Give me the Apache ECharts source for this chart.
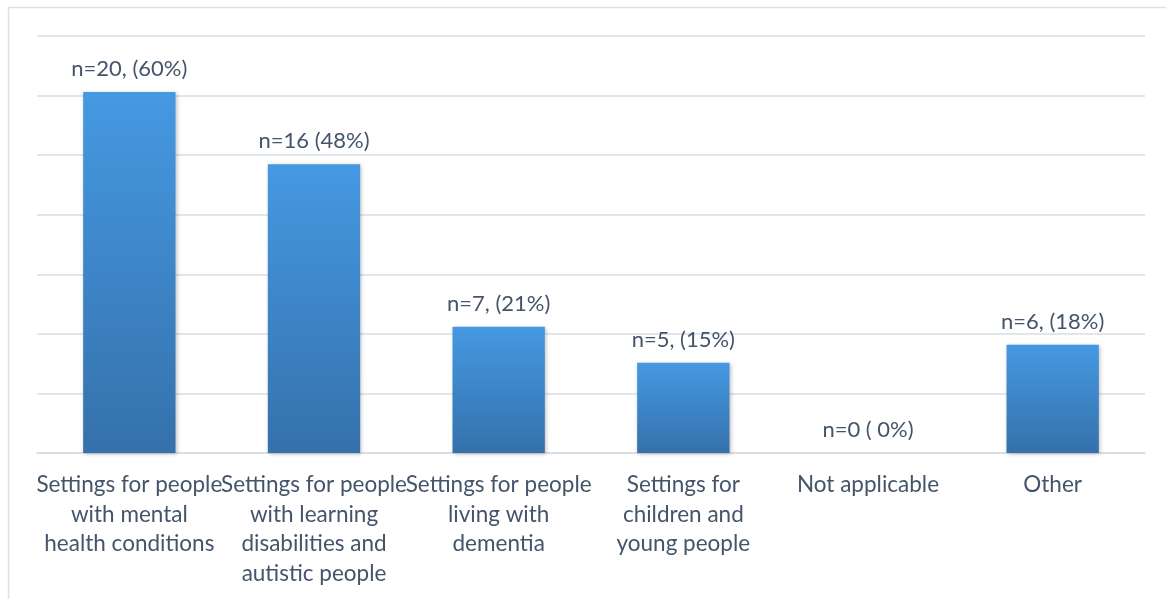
<!DOCTYPE html>
<html>
<head>
<meta charset="utf-8">
<script src="https://cdn.jsdelivr.net/npm/echarts@6/dist/echarts.min.js"></script>
<style>
  html, body { margin: 0; padding: 0; background: #ffffff; }
  #chart { width: 1166px; height: 599px; }
</style>
</head>
<body>
<div id="chart"></div>
<script>
// Care settings reported by respondents (n = number of respondents)
const categories = [
  'Settings for people\nwith mental\nhealth conditions',
  'Settings for people\nwith learning\ndisabilities and\nautistic people',
  'Settings for people\nliving with\ndementia',
  'Settings for\nchildren and\nyoung people',
  'Not applicable',
  'Other'
];
const counts = [20, 16, 7, 5, 0, 6];
const valueLabels = ['n=20, (60%)', 'n=16 (48%)', 'n=7, (21%)', 'n=5, (15%)', 'n=0 ( 0%)', 'n=6, (18%)'];
const respondents = 33;   // total answering; gridlines mark 10% steps of this
const gridSteps = 7;

const textColor = '#44546a';
const fontFamily = 'Lato, "Open Sans", sans-serif';

const chart = echarts.init(document.getElementById('chart'), null, { renderer: 'canvas' });
chart.setOption({
  animation: false,
  backgroundColor: '#ffffff',
  graphic: [{
    type: 'rect',
    shape: { x: 8.5, y: 7.5, width: 1200, height: 700 },
    style: { fill: 'none', stroke: '#dde1e6', lineWidth: 1.5 },
    silent: true
  }],
  grid: { left: 37, right: 21, top: 36, bottom: 146, containLabel: false },
  xAxis: {
    type: 'category',
    data: categories,
    axisLine: { show: true, lineStyle: { color: '#d9dde3', width: 1.5 } },
    axisTick: { show: false },
    axisLabel: {
      interval: 0,
      color: textColor,
      fontFamily: fontFamily,
      fontSize: 22.5,
      lineHeight: 29.5,
      margin: 17,
      align: 'center',
      overflow: 'none'
    }
  },
  yAxis: {
    type: 'value',
    min: 0,
    max: respondents * gridSteps / 10,
    interval: respondents / 10,
    axisLine: { show: false },
    axisTick: { show: false },
    axisLabel: { show: false },
    splitLine: { lineStyle: { color: '#d9dde3', width: 1.5 } }
  },
  series: [{
    type: 'bar',
    data: counts,
    barWidth: '50%',
    itemStyle: {
      color: new echarts.graphic.LinearGradient(0, 0, 0, 1, [
        { offset: 0, color: '#4599e2' },
        { offset: 1, color: '#3571ab' }
      ]),
      shadowColor: 'rgba(0,0,0,0.25)',
      shadowBlur: 4,
      shadowOffsetX: 1,
      shadowOffsetY: 1
    },
    label: {
      show: true,
      position: 'top',
      distance: 12,
      color: textColor,
      fontFamily: fontFamily,
      fontSize: 22,
      formatter: p => valueLabels[p.dataIndex]
    }
  }]
});
</script>
</body>
</html>
